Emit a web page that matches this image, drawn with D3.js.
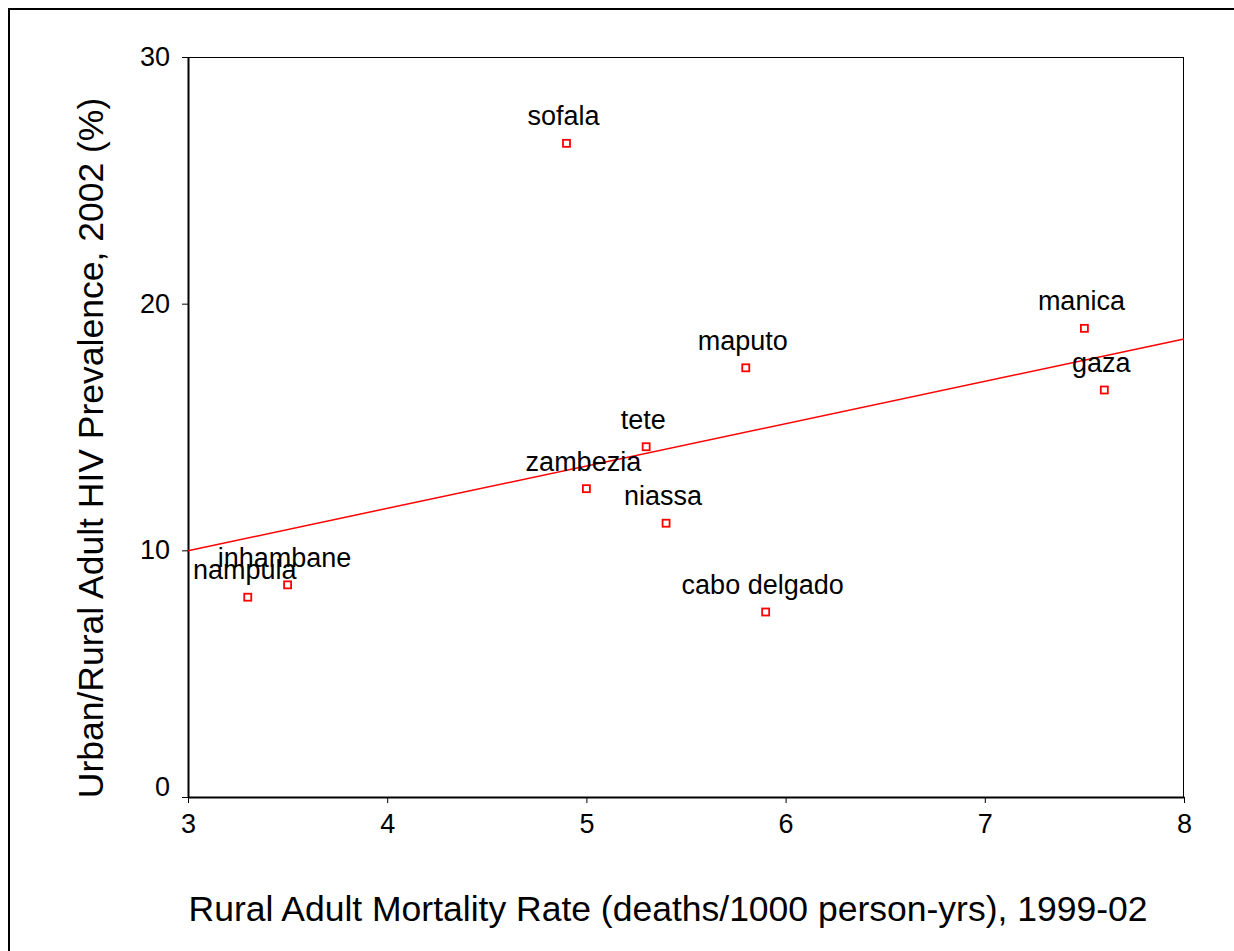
<!DOCTYPE html>
<html>
<head>
<meta charset="utf-8">
<script src="https://cdn.jsdelivr.net/npm/d3@7"></script>
<style>
  body { margin: 0; background: #fff; }
  text { font-family: Arial, "Liberation Sans", sans-serif; fill: #000; }
</style>
</head>
<body>
<div id="chart"></div>
<script>
// data
var provinces = ["sofala", "manica", "gaza", "maputo", "tete", "zambezia", "niassa", "cabo delgado", "nampula", "inhambane"];
var mortality = [4.9, 7.5, 7.6, 5.8, 5.3, 5.0, 5.4, 5.9, 3.3, 3.5];
var hivPrev = [26.5, 19.0, 16.5, 17.4, 14.2, 12.5, 11.1, 7.5, 8.1, 8.6];
var xTicks = [3, 4, 5, 6, 7, 8];
var yTicks = [0, 10, 20, 30];

var svgWidth = 1234;
var svgHeight = 951;

var margin = {top: 57, right: 50, bottom: 154, left: 188};
var width = svgWidth - margin.left - margin.right;
var height = svgHeight - margin.top - margin.bottom;

var svg = d3.select("#chart")
  .append("svg")
  .attr("width", svgWidth)
  .attr("height", svgHeight);

// outer frame (runs off the right and bottom edges)
svg.append("rect")
  .attr("x", 9)
  .attr("y", 9)
  .attr("width", 1400)
  .attr("height", 1200)
  .attr("fill", "none")
  .attr("stroke", "#000")
  .attr("stroke-width", 2);

var chartGroup = svg.append("g")
  .attr("transform", `translate(${margin.left}, ${margin.top})`);

var xScale = d3.scaleLinear().domain([3, 8]).range([0, width]);
var yScale = d3.scaleLinear().domain([0, 30]).range([height, 0]);

// top and right frame lines
chartGroup.append("line")
  .attr("x1", 0).attr("x2", width)
  .attr("y1", 0.5).attr("y2", 0.5)
  .attr("stroke", "#000").attr("stroke-width", 1);
chartGroup.append("line")
  .attr("x1", width - 0.5).attr("x2", width - 0.5)
  .attr("y1", 0).attr("y2", height)
  .attr("stroke", "#000").attr("stroke-width", 1);

// axes
var bottomAxis = d3.axisBottom(xScale)
  .tickValues(xTicks)
  .tickFormat(d3.format("d"))
  .tickSize(6)
  .tickSizeOuter(0)
  .tickPadding(11);

var leftAxis = d3.axisLeft(yScale)
  .tickValues(yTicks)
  .tickFormat(d3.format("d"))
  .tickSize(6)
  .tickSizeOuter(0)
  .tickPadding(12);

var xAxis = chartGroup.append("g")
  .attr("transform", `translate(0, ${height})`)
  .call(bottomAxis);

var yAxis = chartGroup.append("g")
  .call(leftAxis);

[xAxis, yAxis].forEach(function(ax) {
  ax.select(".domain").attr("stroke", "#000").attr("stroke-width", 2);
  ax.selectAll(".tick line").attr("stroke", "#000").attr("stroke-width", 1);
  ax.selectAll("text")
    .attr("fill", "#000")
    .style("font-family", "Arial, 'Liberation Sans', sans-serif")
    .style("font-size", "27px");
});

// the 0 label sits a little above its tick
yAxis.selectAll(".tick")
  .filter(d => d === 0)
  .select("text")
  .attr("dy", "-0.05em");

// least squares fit line
var mx = d3.mean(mortality);
var my = d3.mean(hivPrev);
var sxy = d3.sum(mortality, (v, i) => (v - mx) * (hivPrev[i] - my));
var sxx = d3.sum(mortality, v => (v - mx) * (v - mx));
var slope = sxy / sxx;
var intercept = my - slope * mx;

chartGroup.append("line")
  .attr("x1", xScale(3))
  .attr("y1", yScale(intercept + slope * 3))
  .attr("x2", xScale(8))
  .attr("y2", yScale(intercept + slope * 8))
  .attr("stroke", "#ff0000")
  .attr("stroke-width", 1.5);

var points = provinces.map((p, i) => ({name: p, x: mortality[i], y: hivPrev[i]}));

// point labels
chartGroup.append("g").selectAll("text")
  .data(points)
  .enter()
  .append("text")
  .text(d => d.name)
  .attr("x", d => xScale(d.x) - 3)
  .attr("y", d => yScale(d.y) - 18)
  .attr("text-anchor", "middle")
  .style("font-size", "27px");

// square markers
chartGroup.append("g").selectAll("rect")
  .data(points)
  .enter()
  .append("rect")
  .attr("x", d => xScale(d.x) - 3.5)
  .attr("y", d => yScale(d.y) - 3.5)
  .attr("width", 7)
  .attr("height", 7)
  .attr("fill", "#fff")
  .attr("stroke", "#ff0000")
  .attr("stroke-width", 1.8);

// axis titles
svg.append("text")
  .attr("x", 668)
  .attr("y", 921)
  .attr("text-anchor", "middle")
  .style("font-size", "35.5px")
  .text("Rural Adult Mortality Rate (deaths/1000 person-yrs), 1999-02");

svg.append("text")
  .attr("transform", "translate(103, 448) rotate(-90)")
  .attr("text-anchor", "middle")
  .style("font-size", "35.5px")
  .text("Urban/Rural Adult HIV Prevalence, 2002 (%)");
</script>
</body>
</html>
